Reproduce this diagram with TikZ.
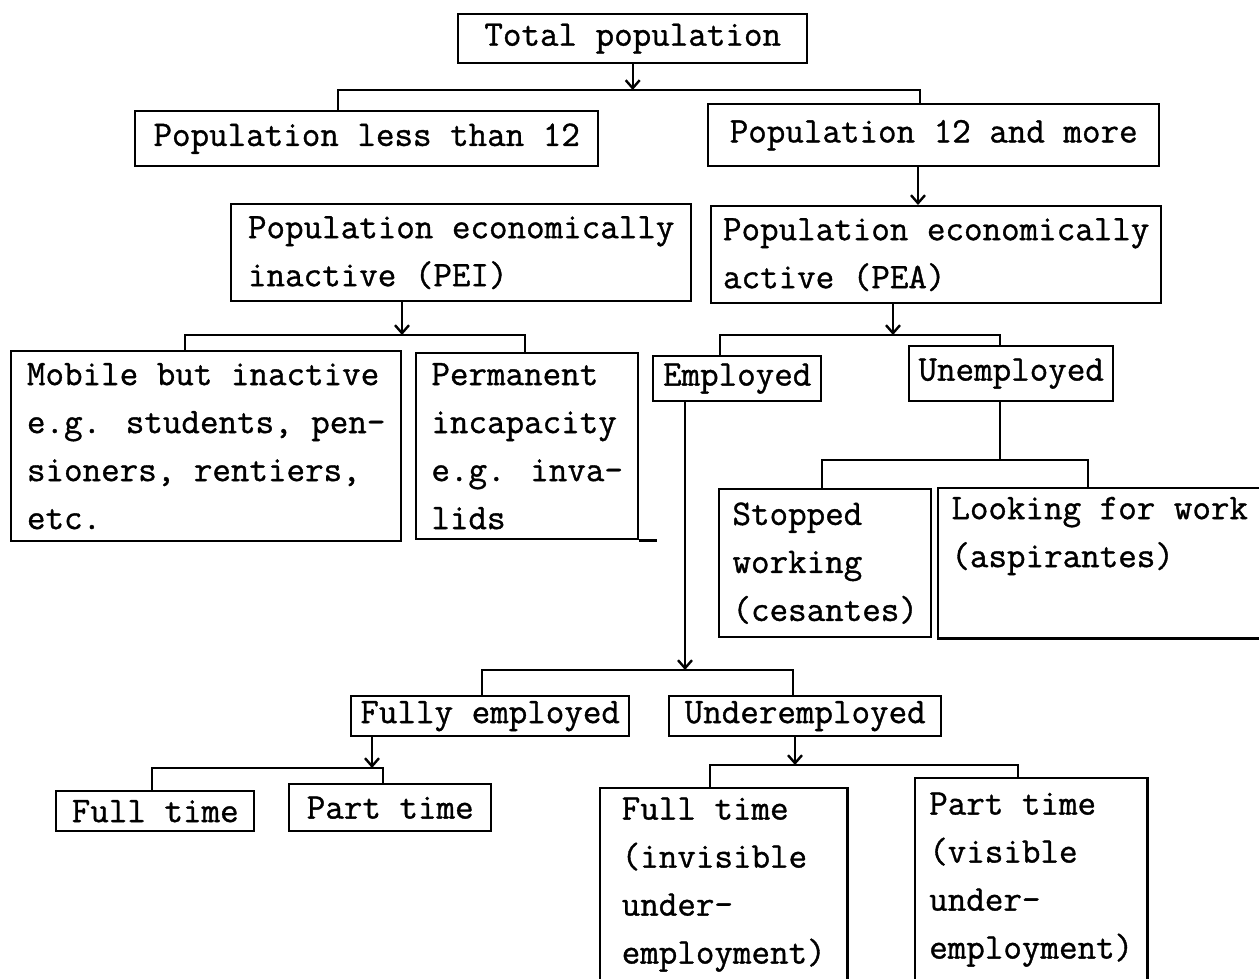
\documentclass[tikz,border=0pt]{standalone}
\usepackage{fontspec}
\usetikzlibrary{arrows.meta}
\newfontfamily\typewriter{Latin Modern Mono}[UprightFeatures={FakeBold=1}]
\begin{document}
\begin{tikzpicture}[x=0.5pt,y=-0.5pt,line width=1.2pt,
  >={Straight Barb[length=4pt,width=7pt]},
  box/.style 2 args={draw,anchor=north west,align=left,inner sep=1pt,
    minimum width=#1*0.5pt,minimum height=#2*0.5pt,
    font=\typewriter\fontsize{18}{24}\selectfont},
  openbox/.style 2 args={box={#1}{#2},draw=none},
  arr/.style={->},
  link/.style={-}]
\useasboundingbox (0,0) rectangle (1259,979);

% boxes
\node[box={349}{49}] (tot) at (457,13) {Total population};
\node[box={463}{55}] (less) at (134,110) {Population less than 12};
\node[box={451}{62}] (more) at (707,103) {Population 12 and more};
\node[box={460}{97}] (pei) at (230,203) {Population economically\\inactive (PEI)};
\node[box={450}{97}] (pea) at (710,205) {Population economically\\active (PEA)};
\node[box={390}{190}] (mob) at (10,350) {Mobile but inactive\\e.g. students, pen-\\sioners, rentiers,\\etc.};
\node[box={222}{186}] (perm) at (415,352) {Permanent\\incapacity\\e.g. inva-\\lids};
\node[box={168}{45}] (emp) at (652,355) {Employed};
\node[box={204}{55}] (unemp) at (908,345) {Unemployed};
\node[box={212}{148}] (stop) at (718,488) {Stopped\\working\\(cesantes)};
\node[openbox={321}{148}] (look) at (938,488) {Looking for work\\(aspirantes)\\\strut};
\node[box={278}{40}] (fully) at (350,695) {Fully employed};
\node[box={272}{40}] (under) at (668,695) {Underemployed};
\node[box={198}{40}] (ftime) at (55,790) {Full time};
\node[box={202}{47}] (ptime) at (288,783) {Part time};
\node[openbox={245}{191}] (ftinv) at (600,788) {Full time\\(invisible\\under-\\employment)};
\node[openbox={230}{201}] (ptvis) at (915,778) {Part time\\(visible\\under-\\employment)};

% open sides
\draw (look.north east) -- (look.north west) -- (look.south west) -- (look.south east);
\draw (ftinv.south west) -- (ftinv.north west) -- (ftinv.north east) -- (ftinv.south east);
\draw (ptvis.south west) -- (ptvis.north west) -- (ptvis.north east) -- (ptvis.south east);
\draw (perm.south east) -- ++(18,0);

% brackets
\coordinate (t1) at (338,90);
\coordinate (t2) at (920,90);
\draw[arr] (tot.south) -- (tot.south |- t1);
\draw[link] (less.north -| t1) -- (t1) -- (t2) -- (more.north -| t2);

\coordinate (m0) at (918,185);
\draw[arr] (more.south -| m0) -- (pea.north -| m0);

\coordinate (i0) at (402,335);
\coordinate (i1) at (185,335);
\coordinate (i2) at (525,335);
\draw[arr] (pei.south -| i0) -- (i0);
\draw[link] (mob.north -| i1) -- (i1) -- (i2) -- (perm.north -| i2);

\coordinate (a0) at (893,335);
\coordinate (a1) at (720,335);
\coordinate (a2) at (1000,335);
\draw[arr] (pea.south -| a0) -- (a0);
\draw[link] (emp.north -| a1) -- (a1) -- (a2) -- (unemp.north -| a2);

\coordinate (e0) at (685,670);
\coordinate (e1) at (482,670);
\coordinate (e2) at (793,670);
\draw[arr] (emp.south -| e0) -- (e0);
\draw[link] (fully.north -| e1) -- (e1) -- (e2) -- (under.north -| e2);

\coordinate (u0) at (1000,460);
\coordinate (u1) at (822,460);
\coordinate (u2) at (1088,460);
\draw[link] (unemp.south -| u0) -- (u0);
\draw[link] (stop.north -| u1) -- (u1) -- (u2) -- (look.north -| u2);

\coordinate (f0) at (372,768);
\coordinate (f1) at (152,768);
\coordinate (f2) at (383,768);
\draw[arr] (fully.south -| f0) -- (f0);
\draw[link] (ftime.north -| f1) -- (f1) -- (f2) -- (ptime.north -| f2);

\coordinate (d0) at (795,765);
\coordinate (d1) at (710,765);
\coordinate (d2) at (1018,765);
\draw[arr] (under.south -| d0) -- (d0);
\draw[link] (ftinv.north -| d1) -- (d1) -- (d2) -- (ptvis.north -| d2);
\end{tikzpicture}
\end{document}
